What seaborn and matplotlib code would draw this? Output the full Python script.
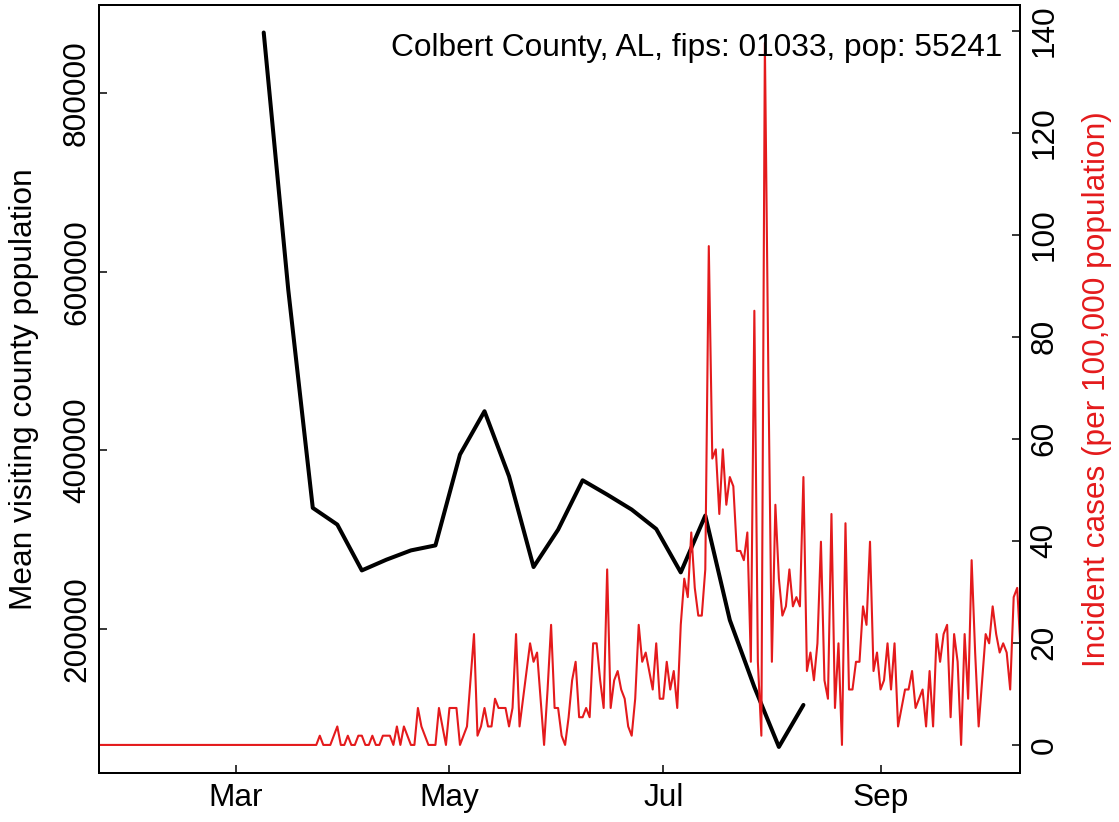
import pandas as pd
import matplotlib
matplotlib.use("Agg")
import matplotlib.pyplot as plt
import seaborn as sns

sns.set_theme(style="white")
plt.rcParams["font.family"] = ["Liberation Sans", "DejaVu Sans"]
plt.rcParams["text.color"] = "black"
plt.rcParams["xtick.color"] = "black"
plt.rcParams["ytick.color"] = "black"

# county info
county = "Colbert County, AL"
fips = "01033"
pop = 55241

# weekly mean visiting county population (weeks starting Mondays)
week_start = "2020-03-09"
visiting_pop = [867800, 580000, 335600, 316900, 265600, 277600, 288000, 293600,
                395300, 443800, 371000, 269400, 311200, 366500, 350500, 333700,
                312000, 263400, 327000, 210000, 135000, 68000, 115000]

# daily new cases, starting 2020-01-22 (no cases before Mar 25)
day_start = "2020-01-22"
new_cases = [0] * 63 + [
    1, 0, 0, 0, 1, 2, 0, 0, 1, 0, 0, 1, 1, 0, 0, 1, 0, 0, 1, 1, 1, 0, 2, 0, 2, 1, 0,
    0, 4, 2, 1, 0, 0, 0, 4, 2, 0, 4, 4, 4, 0, 1, 2, 7, 12, 1, 2, 4, 2, 2, 5, 4, 4,
    4, 2, 4, 12, 2, 5, 8, 11, 9, 10, 5, 0, 6, 13, 4, 4, 1, 0, 3, 7, 9, 3, 3, 4, 3,
    11, 11, 7, 4, 19, 4, 7, 8, 6, 5, 2, 1, 5, 13, 9, 10, 8, 6, 11, 5, 5, 9, 6, 8,
    4, 13, 18, 16, 23, 17, 14, 14, 19, 54, 31, 32, 25, 32, 26, 29, 28, 21, 21, 20,
    23, 9, 47, 9, 1, 76, 40, 9, 26, 18, 14, 15, 19, 15, 16, 15, 29, 8, 10, 7, 11,
    22, 7, 5, 25, 4, 11, 0, 24, 6, 6, 9, 9, 15, 13, 22, 8, 10, 6, 7, 11, 6, 11, 2,
    4, 6, 6, 8, 4, 5, 6, 2, 8, 2, 12, 9, 12, 13, 3, 12, 9, 0, 12, 5, 20, 10, 2, 7,
    12, 11, 15, 12, 10, 11, 10, 6, 16, 17, 10]

weekly = pd.DataFrame({
    "date": pd.date_range(week_start, periods=len(visiting_pop), freq="7D"),
    "visitors": visiting_pop,
})
daily = pd.DataFrame({
    "date": pd.date_range(day_start, periods=len(new_cases), freq="D"),
    "cases": new_cases,
})
daily["rate"] = daily["cases"] / pop * 1e5

month_ticks = pd.to_datetime(["2020-03-01", "2020-05-01", "2020-07-01", "2020-09-01"])
month_labels = ["Mar", "May", "Jul", "Sep"]
left_ticks = [200000, 400000, 600000, 800000]
right_ticks = [0, 20, 40, 60, 80, 100, 120, 140]

red = "#E41A1C"
fs = 22.8

fig = plt.figure(figsize=(11.19, 8.22), dpi=100)
ax = fig.add_axes([99 / 1119, 49 / 822, 921 / 1119, 768 / 822])

sns.lineplot(data=weekly, x="date", y="visitors", ax=ax, color="black", lw=2.9)
ax2 = ax.twinx()
sns.lineplot(data=daily, x="date", y="rate", ax=ax2, color=red, lw=1.5)

x0 = pd.Timestamp(day_start)
ax.set_xlim(x0, x0 + pd.Timedelta(days=262.8))
ax.set_ylim(38800, 898600)
ax2.set_ylim(-5.5, 145)

ax.set_xticks(month_ticks, labels=month_labels)
ax.set_yticks(left_ticks, labels=[str(v) for v in left_ticks], rotation=90, va="center")
ax2.set_yticks(right_ticks, labels=[str(v) for v in right_ticks], rotation=90, va="center")

for a in (ax, ax2):
    a.set_xlabel("")
    a.set_ylabel("")
    for s in a.spines.values():
        s.set_color("black")
        s.set_linewidth(1.4)
ax.tick_params(axis="x", direction="in", length=5.8, width=1.1, labelsize=fs, pad=7, bottom=True)
ax.tick_params(axis="y", direction="in", length=5.8, width=1.1, labelsize=fs, pad=5, left=True)
ax2.tick_params(axis="y", direction="in", length=5.8, width=1.1, labelsize=fs, pad=7, right=True)

ax2.text((1002 - 99) / 921, (773 - 56) / 768,
         f"{county}, fips: {fips}, pop: {pop}",
         transform=ax2.transAxes, ha="right", va="baseline", fontsize=fs)

fig.text(24 / 1119, 1 - 389 / 822, "Mean visiting county population",
         rotation=90, ha="center", va="center", fontsize=fs)
fig.text(1097 / 1119, 1 - 389 / 822, "Incident cases (per 100,000 population)",
         rotation=90, ha="center", va="center", fontsize=fs, color=red)

fig.savefig("out.png", dpi=100)
